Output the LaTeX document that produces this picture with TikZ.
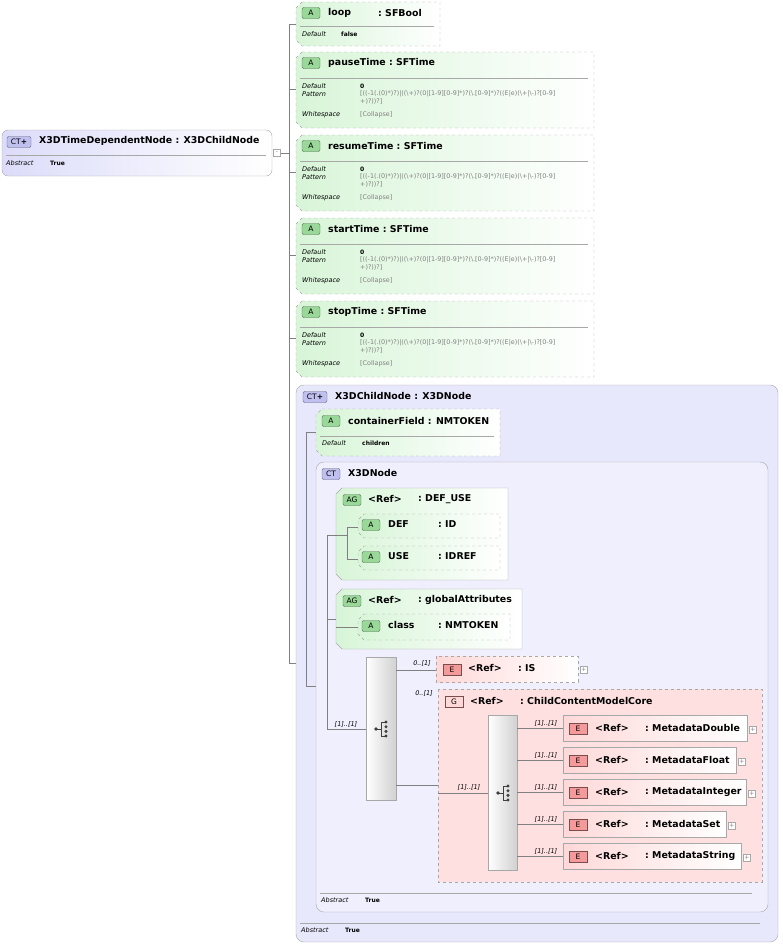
\documentclass[tikz,border=0pt]{standalone}
\usepackage{fontspec}
\setmainfont{DejaVu Sans}
\usetikzlibrary{positioning,calc}

\definecolor{ctfill}{HTML}{DCDCFA}
\definecolor{ctback}{HTML}{E8E8FC}
\definecolor{attrfill}{HTML}{D8F5D8}
\definecolor{elemfill}{HTML}{FFD8D8}
\definecolor{grpfill}{HTML}{FFE0E0}
\definecolor{frame}{HTML}{A8A8A8}
\definecolor{badgegreen}{HTML}{9AD89A}
\definecolor{badgered}{HTML}{F49A9A}
\definecolor{badgeblue}{HTML}{C0C0F0}

\tikzset{
  title/.style={anchor=west, inner sep=0pt, font=\fontsize{9.4}{11}\selectfont\bfseries},
  detail/.style={anchor=west, inner sep=0pt, font=\fontsize{6.5}{7.5}\selectfont\itshape},
  value/.style={anchor=west, inner sep=0pt, font=\fontsize{6}{7}\selectfont\bfseries},
  pattern/.style={anchor=north west, inner sep=0pt, align=left,
    text=gray, font=\fontsize{6.4}{8}\selectfont},
  mult/.style={anchor=south, inner sep=0pt, font=\fontsize{6.5}{7}\selectfont\itshape},
  badge/.style={draw=#1!50!black, fill=#1, rounded corners=2pt, minimum width=18pt,
    minimum height=11pt, inner sep=0pt, font=\fontsize{7.5}{8}\selectfont},
  attrbox/.style={draw=frame, dashed, left color=attrfill, right color=white},
  tree/.style={draw=gray, line width=0.5pt},
  seqbox/.style={draw=frame, left color=white, right color=black!18},
  plusbox/.style={draw=frame, fill=white, minimum size=7pt, inner sep=0pt,
    font=\fontsize{6}{6}\selectfont, text=gray}
}

% chamfered attribute frame: x1 y1 x2 y2 style
\newcommand\attrframe[5]{%
  \path[#5] ({#1+6},#2) -- (#3,#2) -- (#3,#4) -- ({#1+6},#4) -- (#1,{#4-6})
    -- (#1,{#2+6}) -- cycle;}

% sequence icon at centre x y
\newcommand\seqicon[2]{%
  \draw[black!75, line width=0.7pt] ({#1-5},#2) -- ({#1},#2) ({#1+4},{#2-7}) -- ({#1},{#2-7})
    -- ({#1},{#2+7}) -- ({#1+4},{#2+7});
  \fill[black!75] ({#1-5},#2) circle (1.8pt);
  \foreach \d in {-7,-2.3,2.3,7} \fill[black!75] ({#1+5},{#2+\d}) circle (1.7pt);
}

% SFTime attribute with pattern: node name, label, top y
\newcommand\timeattr[3]{%
  \attrframe{296}{#3}{594}{#3+76}{attrbox}
  \node[badge=badgegreen] at (311,{#3+11}) {A};
  \node[title] (#1) at (328,{#3+11}) {#2\ :\ SFTime};
  \draw[frame] (300,{#3+26}) -- (588,{#3+26});
  \node[detail] at (302,{#3+34}) {Default};
  \node[value] at (360,{#3+34}) {0};
  \node[detail] at (302,{#3+42}) {Pattern};
  \node[pattern] at (360,{#3+38.5}) {\detokenize{[((-1(.(0)*)?)|((\+)?(0|[1-9][0-9]*)?(\.[0-9]*)?((E|e)(\+|\-)?[0-9]}\\\detokenize{+)?))?]}};
  \node[detail] at (302,{#3+63}) {Whitespace};
  \node[pattern, anchor=west] at (360,{#3+63}) {[Collapse]};
}

% referenced element row: node name, type, y centre, right edge
\newcommand\elemrow[4]{%
  \path[draw=frame, left color=elemfill, right color=white] (563,{#3-13}) rectangle (#4,{#3+13});
  \node[badge=badgered, rounded corners=0pt] at (578,{#3+1}) {E};
  \node[title] (#1) at (595,#3) {<Ref>};
  \node[title] at (645,#3) {:\ #2};
  \node[plusbox] at ({#4+6},{#3+2}) {+};
  \draw[tree] (517,#3) -- (563,#3);
  \node[mult] at (546,{#3-1}) {[1]..[1]};
}

\begin{document}
\begin{tikzpicture}[x=1pt, y=-1pt]
\useasboundingbox (0,0) rectangle (783,946);

% root complex type
\path[draw=frame, rounded corners=6pt, left color=ctfill, right color=white]
  (2,130) rectangle (272,176);
\node[badge=badgeblue, minimum width=24pt] at (19,142) {CT\textbf{+}};
\node[title] (root) at (39,141) {X3DTimeDependentNode : X3DChildNode};
\draw[frame] (6,155) -- (266,155);
\node[detail] at (6,163) {Abstract};
\node[value] at (50,163) {True};
\node[plusbox] (rootcol) at (277,153) {-};
\coordinate (trunk) at (289,153);
\draw[tree] (rootcol) -- (trunk);

% loop
\attrframe{296}{2}{440}{46}{attrbox}
\node[badge=badgegreen] at (311,13) {A};
\node[title] (loop) at (328,13) {loop};
\node[title] at (378,13) {:\ SFBool};
\draw[frame] (300,26) -- (434,26);
\node[detail] at (302,34) {Default};
\node[value] at (341,34) {false};

\timeattr{pause}{pauseTime}{52}
\timeattr{resume}{resumeTime}{135}
\timeattr{start}{startTime}{218}
\timeattr{stop}{stopTime}{301}

% trunk branches
\draw[tree] (289,24) -- (289,663);
\foreach \y in {24,89,172,255,338} \draw[tree] (289,\y) -- (296,\y);
\draw[tree] (289,663) -- (306,663);

% X3DChildNode
\path[draw=frame, rounded corners=8pt, fill=ctback] (296,385) rectangle (778,942);
\node[badge=badgeblue, minimum width=24pt] at (315,397) {CT\textbf{+}};
\node[title] (child) at (335,396) {X3DChildNode : X3DNode};
\attrframe{316}{409}{500}{456}{attrbox}
\node[badge=badgegreen] at (331,421) {A};
\node[title] (container) at (348,421) {containerField : NMTOKEN};
\draw[frame] (320,436) -- (494,436);
\node[detail] at (322,443) {Default};
\node[value] at (362,443) {children};
\draw[tree] (306,432) -- (316,432);
\draw[tree] (306,432) -- (306,686) -- (316,686);
\draw[frame] (300,923) -- (760,923);
\node[detail] at (301,930) {Abstract};
\node[value] at (345,930) {True};

% X3DNode
\path[draw=frame, rounded corners=8pt, fill=ctback!70!white] (316,462) rectangle (768,912);
\node[badge=badgeblue] at (331,474) {CT};
\node[title] (xnode) at (348,473) {X3DNode};
\draw[frame] (320,893) -- (752,893);
\node[detail] at (321,900) {Abstract};
\node[value] at (365,900) {True};

% DEF_USE group
\attrframe{336}{488}{508}{580}{draw=frame, left color=attrfill, right color=white}
\node[badge=badgegreen] at (352,500) {AG};
\node[title] (defuse) at (368,499) {<Ref>};
\node[title] at (418,499) {:\ DEF\_USE};
\attrframe{358}{514}{500}{538}{attrbox}
\node[badge=badgegreen] at (371,525) {A};
\node[title] (def) at (388,524) {DEF};
\node[title] at (438,524) {:\ ID};
\attrframe{358}{546}{500}{570}{attrbox}
\node[badge=badgegreen] at (371,557) {A};
\node[title] (use) at (388,556) {USE};
\node[title] at (438,556) {:\ IDREF};
\draw[tree] (327,535) -- (347,535);
\draw[tree] (358,527) -- (347,527) -- (347,559) -- (358,559);

% globalAttributes group
\attrframe{336}{589}{522}{649}{draw=frame, left color=attrfill, right color=white}
\node[badge=badgegreen] at (352,601) {AG};
\node[title] (glob) at (368,600) {<Ref>};
\node[title] at (418,600) {:\ globalAttributes};
\attrframe{358}{614}{510}{640}{attrbox}
\node[badge=badgegreen] at (371,626) {A};
\node[title] (class) at (388,625) {class};
\node[title] at (438,625) {:\ NMTOKEN};
\draw[tree] (327,619) -- (336,619);
\draw[tree] (336,627) -- (358,627);

% outer sequence
\draw[tree] (327,535) -- (327,729) -- (366,729);
\node[mult] at (346,728) {[1]..[1]};
\path[seqbox] (366,657) rectangle (396,800);
\seqicon{381}{729}

\path[draw=frame, dashed, left color=elemfill, right color=white] (436,656) rectangle (578,682);
\node[badge=badgered, rounded corners=0pt] at (452,670) {E};
\node[title] (is) at (468,668) {<Ref>};
\node[title] at (518,668) {:\ IS};
\node[plusbox] at (584,670) {+};
\draw[tree] (396,670) -- (436,670);
\node[mult] at (422,667) {0..[1]};

% ChildContentModelCore group
\path[draw=frame, dashed, fill=grpfill] (438,689) rectangle (762,882);
\node[badge=badgered, rounded corners=0pt, fill=elemfill] at (454,702) {G};
\node[title] (core) at (470,701) {<Ref>};
\node[title] at (520,701) {:\ ChildContentModelCore};
\draw[tree] (396,785) -- (438,785);
\node[mult] at (424,697) {0..[1]};

\path[seqbox] (488,715) rectangle (517,870);
\seqicon{503}{793}
\draw[tree] (438,793) -- (488,793);
\node[mult] at (469,791) {[1]..[1]};

\elemrow{mdouble}{MetadataDouble}{728}{747}
\elemrow{mfloat}{MetadataFloat}{760}{736}
\elemrow{minteger}{MetadataInteger}{792}{746}
\elemrow{mset}{MetadataSet}{824}{726}
\elemrow{mstring}{MetadataString}{856}{741}
\end{tikzpicture}
\end{document}
